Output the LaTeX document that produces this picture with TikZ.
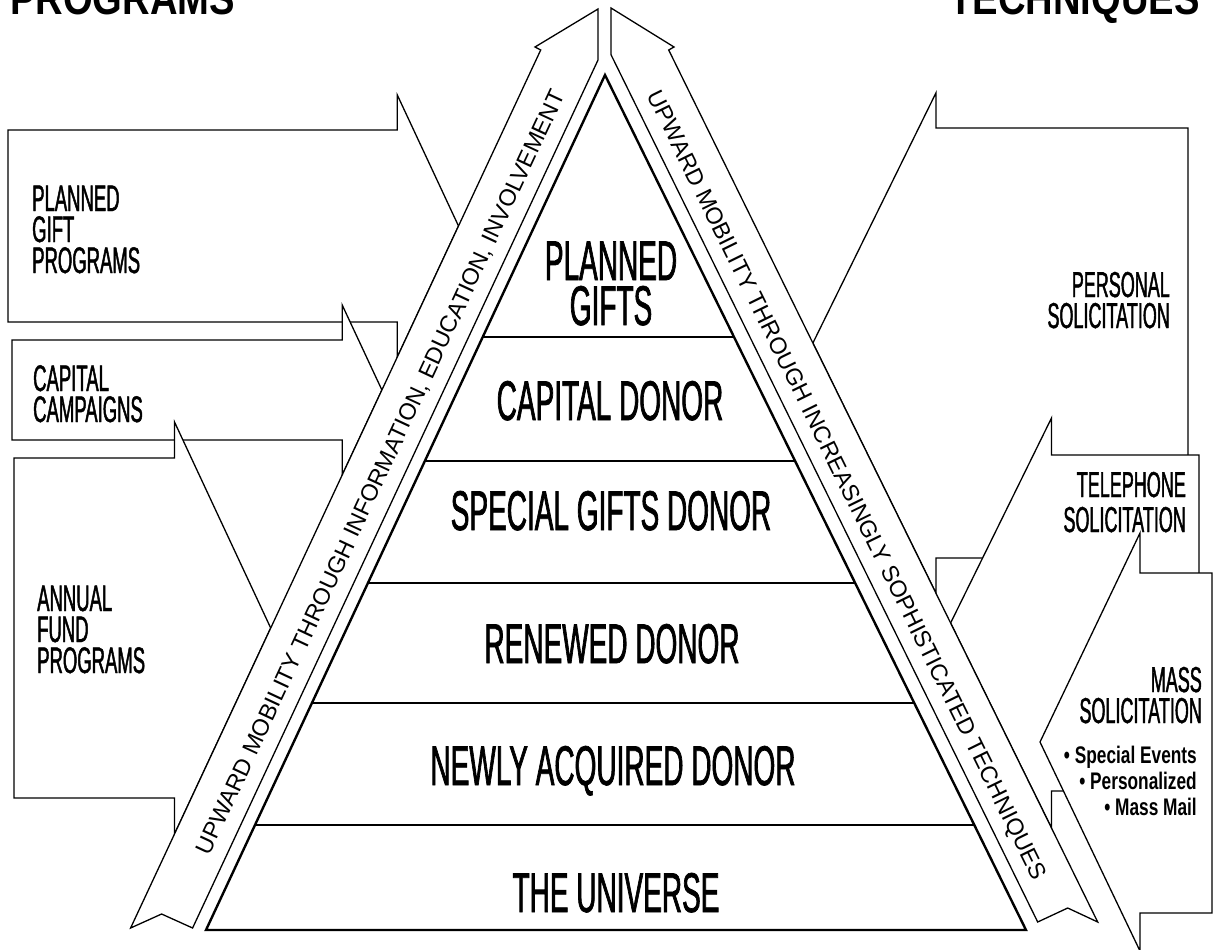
\documentclass[tikz,border=0pt]{standalone}
\usepackage{fontspec}
\setmainfont{Liberation Sans}
\newfontfamily\tierfont{Liberation Sans}[FakeStretch=0.5, FakeBold=1.2]
\newfontfamily\headfont{Liberation Sans}[FakeStretch=0.83]
\newfontfamily\notefont{Liberation Sans}[FakeStretch=0.72]
\usetikzlibrary{calc, positioning}

\begin{document}
\begin{tikzpicture}[
		x=1pt, y=-1pt,
		pyramid/.style={draw, line width=2.4pt, line join=miter},
		tier/.style={line width=2.4pt},
		ribbon/.style={draw, fill=white, line width=1.3pt, line join=miter},
		feeder/.style={draw, fill=white, line width=1.3pt, line join=miter},
		stage/.style={
				font=\tierfont\fontsize{56}{45}\selectfont,
				inner sep=0pt, align=center, anchor=base
			},
		source/.style={
				font=\tierfont\fontsize{37}{31}\selectfont,
				inner sep=0pt, align=left, anchor=base west
			},
		method/.style={
				font=\tierfont\fontsize{36}{31}\selectfont,
				inner sep=0pt, align=right, anchor=base east
			},
		band/.style={
				font=\fontsize{23.4}{24}\selectfont, inner sep=0pt,
				text height=16.8pt, % cap height only
				text depth=0pt
			},
		heading/.style={font=\headfont\bfseries\fontsize{46}{46}\selectfont, inner sep=0pt}
	]
	\useasboundingbox (0,0) rectangle (1215,950);
	\fill[white] (0,0) rectangle (1215,950);
	\clip (0,0) rectangle (1215,950);

	% column headings, cut by the top edge
	\node[heading, anchor=base west] (programs) at (10,15) {PROGRAMS};
	\node[heading, anchor=base east] (techniques) at (1200,15) {TECHNIQUES};

	% programs coming in from the left (base = last line)
	\draw[feeder] (8,130) -- (397.3,130) -- (397.3,95) -- (458.5,226) -- (397.3,357) -- (397.3,322) -- (8,322) -- cycle;
	\draw[feeder] (12,340) -- (342.2,340) -- (342.2,305) -- (381.9,390) -- (342.2,475) -- (342.2,440) -- (12,440) -- cycle;
	\draw[feeder] (14,458) -- (174.5,458) -- (174.5,422) -- (270.7,628) -- (174.5,834) -- (174.5,798) -- (14,798) -- cycle;
	\node[source] (plannedprog) at (32,273) {PLANNED\\GIFT\\PROGRAMS};
	\node[source] (capitalprog) at (33,422) {CAPITAL\\CAMPAIGNS};
	\node[source] (annualprog) at (37,673) {ANNUAL\\FUND\\PROGRAMS};

	% techniques coming in from the right
	\draw[feeder] (1188,128) -- (935.9,128) -- (935.9,93) -- (812.9,343) -- (935.9,593) -- (935.9,558) -- (1188,558) -- cycle;
	\draw[feeder] (1199,455) -- (1051.5,455) -- (1051.5,418) -- (950.6,623) -- (1051.5,828) -- (1051.5,791) -- (1199,791) -- cycle;
	\draw[feeder] (1212,573) -- (1140,573) -- (1140,533) -- (1040,742) -- (1140,951) -- (1140,913) -- (1212,913) -- cycle;
	\node[method] (personal) at (1170,328) {PERSONAL\\SOLICITATION};
	\node[method] (telephone) at (1186,532) {TELEPHONE\\[4pt]SOLICITATION};
	\node[method] (mass) at (1202,723) {MASS\\SOLICITATION};
	\node[anchor=base east, align=right, inner sep=0pt,
		font=\notefont\bfseries\fontsize{24}{26}\selectfont] (masslist) at (1197,815)
	{\textbullet\ Special Events\\ \textbullet\ Personalized\\ \textbullet\ Mass Mail};

	% the two ribbons up the sides
	\draw[ribbon] (130.6,928) -- (161.6,914) -- (192.6,928) -- (598,60) -- (598,9) -- (535,47) -- (540.7,50) -- cycle;
	\draw[ribbon] (1097.7,922) -- (1067.7,908) -- (1037.7,922) -- (611,54.7) -- (611,8) -- (674,47) -- (668.7,50) -- cycle;
	\path (202.5,852) -- (557.5,92)
	node[band, midway, sloped] (leftband) {UPWARD MOBILITY THROUGH INFORMATION, EDUCATION, INVOLVEMENT};
	\path (654.3,92) -- (1041.1,878)
	node[band, midway, sloped] (rightband) {UPWARD MOBILITY THROUGH INCREASINGLY SOPHISTICATED TECHNIQUES};

	% the pyramid
	\coordinate (apex) at (605,75);
	\coordinate (bl) at (206,930);
	\coordinate (br) at (1026,930);
	\draw[pyramid] (apex) -- (bl) -- (br) -- cycle;
	\foreach \t in {0.3064, 0.4515, 0.5942, 0.7345, 0.8772}
	\draw[tier] ($(apex)!\t!(bl)$) -- ($(apex)!\t!(br)$);

	\node[stage] (gifts) at (611,325) {PLANNED\\GIFTS};
	\node[stage] (capital) at (610,420) {CAPITAL DONOR};
	\node[stage] (special) at (611,530) {SPECIAL GIFTS DONOR};
	\node[stage] (renewed) at (612,663) {RENEWED DONOR};
	\node[stage] (newly) at (613,785) {NEWLY ACQUIRED DONOR};
	\node[stage] (universe) at (616,912) {THE UNIVERSE};
\end{tikzpicture}
\end{document}
